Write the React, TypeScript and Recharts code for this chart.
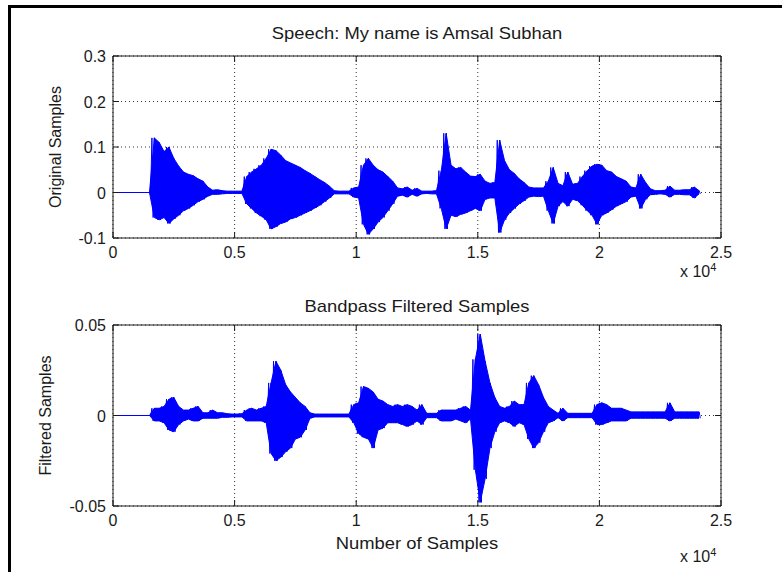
import { ComposedChart, Line, Area, XAxis, YAxis, CartesianGrid, Label } from 'recharts';

const FONT = 'Arial, "Liberation Sans", sans-serif';
const INK = '#1a1a1a';
const WAVE = '#0000ff';

// envelope of the speech waveform, one peak/trough pair per 200-sample bin
const BIN = 200;
const X_TICKS = [0, 5000, 10000, 15000, 20000, 25000];
const ORIG_TICKS = [-0.1, 0, 0.1, 0.2, 0.3];
const FILT_TICKS = [-0.05, 0, 0.05];

const origHi = [
  0, 0, 0, 0, 0, 0, 0, 0, 0.12, 0.11,
  0.09, 0.1, 0.075, 0.058, 0.045, 0.04, 0.037, 0.03, 0.025, 0.012,
  0.005, 0.006, 0.004, 0.003, 0.003, 0.003, 0.003, 0.035, 0.045, 0.052,
  0.06, 0.075, 0.095, 0.092, 0.082, 0.07, 0.065, 0.06, 0.055, 0.048,
  0.042, 0.035, 0.028, 0.022, 0.014, 0.004, 0.003, 0.003, 0.003, 0.01,
  0.012, 0.06, 0.075, 0.06, 0.05, 0.045, 0.035, 0.025, 0.01, 0.008,
  0.012, 0.005, 0.009, 0.003, 0.003, 0.003, 0.004, 0.048, 0.13, 0.06,
  0.052, 0.055, 0.045, 0.036, 0.035, 0.04, 0.025, 0.02, 0.022, 0.115,
  0.07, 0.05, 0.042, 0.03, 0.022, 0.012, 0.01, 0.01, 0.01, 0.025,
  0.055, 0.02, 0.015, 0.045, 0.018, 0.02, 0.035, 0.048, 0.058, 0.062,
  0.06, 0.048, 0.045, 0.035, 0.03, 0.025, 0.012, 0.01, 0.04, 0.022,
  0.008, 0.004, 0.004, 0.005, 0.014, 0.005, 0.005, 0.006, 0.006, 0.012,
  0.004,
];
const origLo = [
  0, 0, 0, 0, 0, 0, 0, 0, -0.055, -0.06,
  -0.055, -0.068, -0.058, -0.05, -0.04, -0.035, -0.028, -0.02, -0.015, -0.008,
  -0.004, -0.004, -0.003, -0.002, -0.002, -0.002, -0.002, -0.025, -0.035, -0.045,
  -0.052, -0.06, -0.08, -0.075, -0.068, -0.065, -0.058, -0.055, -0.05, -0.045,
  -0.04, -0.034, -0.028, -0.02, -0.012, -0.003, -0.003, -0.003, -0.003, -0.01,
  -0.012, -0.07, -0.092, -0.08, -0.065, -0.055, -0.04, -0.025, -0.008, -0.006,
  -0.01, -0.004, -0.008, -0.003, -0.002, -0.003, -0.003, -0.035, -0.08, -0.05,
  -0.053, -0.048, -0.045, -0.04, -0.035, -0.04, -0.015, -0.012, -0.012, -0.088,
  -0.06, -0.045, -0.035, -0.025, -0.018, -0.01, -0.008, -0.009, -0.008, -0.04,
  -0.068, -0.03, -0.02, -0.03, -0.015, -0.018, -0.028, -0.04, -0.05, -0.07,
  -0.05, -0.045, -0.038, -0.03, -0.025, -0.02, -0.01, -0.008, -0.035, -0.015,
  -0.005, -0.004, -0.003, -0.004, -0.01, -0.004, -0.004, -0.005, -0.005, -0.012,
  -0.003,
];
const filtHi = [
  0, 0, 0, 0, 0, 0, 0, 0, 0.004, 0.004,
  0.005, 0.009, 0.01, 0.005, 0.003, 0.003, 0.004, 0.005, 0.0015, 0.0015,
  0.003, 0.0015, 0.0015, 0.001, 0.0008, 0.0008, 0.001, 0.003, 0.004, 0.003,
  0.004, 0.005, 0.018, 0.03, 0.025, 0.017, 0.013, 0.01, 0.007, 0.005,
  0.0015, 0.0008, 0.0008, 0.0008, 0.0008, 0.0008, 0.0008, 0.0008, 0.0008, 0.006,
  0.007, 0.016, 0.015, 0.013, 0.009, 0.008, 0.006, 0.005, 0.006, 0.005,
  0.006, 0.005, 0.003, 0.006, 0.0012, 0.0012, 0.0012, 0.003, 0.003, 0.003,
  0.003, 0.004, 0.005, 0.003, 0.031, 0.045, 0.03, 0.018, 0.01, 0.005,
  0.004, 0.005, 0.008, 0.006, 0.006, 0.018, 0.022, 0.017, 0.01, 0.005,
  0.003, 0.0012, 0.004, 0.0012, 0.0012, 0.0012, 0.0012, 0.0012, 0.0012, 0.006,
  0.007, 0.006, 0.004, 0.004, 0.004, 0.003, 0.002, 0.002, 0.002, 0.002,
  0.002, 0.002, 0.002, 0.002, 0.007, 0.002, 0.002, 0.002, 0.002, 0.002,
  0.002,
];
const filtLo = [
  0, 0, 0, 0, 0, 0, 0, 0, -0.003, -0.003,
  -0.004, -0.008, -0.009, -0.005, -0.003, -0.002, -0.003, -0.003, -0.0015, -0.0015,
  -0.0015, -0.0015, -0.001, -0.001, -0.0008, -0.0008, -0.0008, -0.003, -0.003, -0.003,
  -0.003, -0.004, -0.021, -0.025, -0.023, -0.02, -0.018, -0.013, -0.012, -0.008,
  -0.0015, -0.0008, -0.0008, -0.0008, -0.0008, -0.0008, -0.0008, -0.0008, -0.0008, -0.004,
  -0.01, -0.012, -0.013, -0.018, -0.008, -0.007, -0.004, -0.004, -0.004, -0.005,
  -0.006, -0.005, -0.003, -0.005, -0.0012, -0.0012, -0.0012, -0.003, -0.003, -0.003,
  -0.002, -0.003, -0.004, -0.002, -0.03, -0.048, -0.035, -0.018, -0.009, -0.004,
  -0.003, -0.004, -0.006, -0.004, -0.005, -0.013, -0.018, -0.015, -0.009, -0.004,
  -0.003, -0.0012, -0.003, -0.0012, -0.0012, -0.0012, -0.0012, -0.0012, -0.0012, -0.005,
  -0.005, -0.004, -0.003, -0.003, -0.003, -0.003, -0.0015, -0.0015, -0.0015, -0.0015,
  -0.0015, -0.0015, -0.0015, -0.0015, -0.003, -0.0015, -0.0015, -0.0015, -0.0015, -0.0015,
  -0.0015,
];

// solid body: one [trough, peak] range per bin, at the bin centre
const envData = origHi.map((_, k) => ({
  n: k * BIN + BIN / 2,
  orig: [origLo[k], origHi[k]],
  filt: [filtLo[k], filtHi[k]],
}));

// spiky texture: zigzag between each bin's peak and trough
const waveData = origHi.flatMap((_, k) =>
  [0, 1, 2, 3].map((j) => ({
    n: k * BIN + (j * BIN) / 4,
    orig: j % 2 === 0 ? origHi[k] : origLo[k],
    filt: j % 2 === 0 ? filtHi[k] : filtLo[k],
  }))
);

const fmtX = (v: number) => String(v / 10000);

// the source figure's horizontal text is a little wider than Arial
function WideText({ x, y, children, size = 16 }: any) {
  return (
    <text transform={`translate(${x}, ${y}) scale(1.15, 1)`} textAnchor="middle" fontSize={size} fill={INK} fontFamily={FONT}>
      {children}
    </text>
  );
}

function BottomTick(props: any) {
  const { x, y, payload } = props;
  return (
    <g>
      <line x1={x} y1={y} x2={x} y2={y - 6} stroke={INK} />
      <text x={x} y={y + 20} textAnchor="middle" fontSize={16} fill={INK} fontFamily={FONT}>
        {fmtX(payload.value)}
      </text>
    </g>
  );
}

function TopTick(props: any) {
  const { x, y } = props;
  return <line x1={x} y1={y} x2={x} y2={y + 6} stroke={INK} />;
}

function LeftTick(props: any) {
  const { x, y, payload } = props;
  return (
    <g>
      <line x1={x} y1={y} x2={x + 6} y2={y} stroke={INK} />
      <text x={x - 7} y={y + 6} textAnchor="end" fontSize={16} fill={INK} fontFamily={FONT}>
        {String(payload.value)}
      </text>
    </g>
  );
}

function RightTick(props: any) {
  const { x, y } = props;
  return <line x1={x} y1={y} x2={x - 6} y2={y} stroke={INK} />;
}

function YTitle({ viewBox, text, dx }: any) {
  const cx = viewBox.x + dx;
  const cy = viewBox.y + viewBox.height / 2;
  return (
    <text x={cx} y={cy} transform={`rotate(-90, ${cx}, ${cy})`} textAnchor="middle" fontSize={16} fill={INK} fontFamily={FONT}>
      {text}
    </text>
  );
}

function Panel({ dataKey, yDomain, yTicks, height, margin, xHeight, title, titleY, yLabel, yLabelDx, xLabel, expDy }: any) {
  return (
    <ComposedChart width={782} height={height} margin={margin}>
      <CartesianGrid stroke="#333" strokeDasharray="1 3" />
      <XAxis
        dataKey="n"
        type="number"
        domain={[0, 25000]}
        ticks={X_TICKS}
        interval={0}
        height={xHeight}
        tickSize={0}
        tickMargin={0}
        tickLine={false}
        tick={BottomTick}
        axisLine={{ stroke: INK }}
        allowDataOverflow
      >
        <Label
          content={({ viewBox }: any) => (
            <g>
              <WideText x={viewBox.x + viewBox.width / 2} y={titleY}>
                {title}
              </WideText>
              {xLabel && (
                <WideText x={viewBox.x + viewBox.width / 2} y={viewBox.y + 43}>
                  {xLabel}
                </WideText>
              )}
              <text x={viewBox.x + viewBox.width - 41} y={viewBox.y + expDy} fontSize={16} fill={INK} fontFamily={FONT}>
                x 10
                <tspan fontSize={11} dy={-6}>4</tspan>
              </text>
            </g>
          )}
        />
      </XAxis>
      <XAxis
        xAxisId="top"
        dataKey="n"
        orientation="top"
        type="number"
        domain={[0, 25000]}
        ticks={X_TICKS}
        interval={0}
        height={1}
        tickSize={0}
        tickMargin={0}
        tickLine={false}
        tick={TopTick}
        axisLine={{ stroke: INK }}
        allowDataOverflow
      />
      <YAxis
        type="number"
        domain={yDomain}
        ticks={yTicks}
        interval={0}
        width={60}
        tickSize={0}
        tickMargin={0}
        tickLine={false}
        tick={LeftTick}
        axisLine={{ stroke: INK }}
        allowDataOverflow
      >
        <Label content={({ viewBox }: any) => <YTitle viewBox={viewBox} text={yLabel} dx={yLabelDx} />} />
      </YAxis>
      <YAxis
        yAxisId="right"
        orientation="right"
        type="number"
        domain={yDomain}
        ticks={yTicks}
        interval={0}
        width={1}
        tickSize={0}
        tickMargin={0}
        tickLine={false}
        tick={RightTick}
        axisLine={{ stroke: INK }}
        allowDataOverflow
      />
      <Area
        data={envData}
        type="linear"
        dataKey={dataKey}
        stroke={WAVE}
        strokeWidth={1}
        fill={WAVE}
        fillOpacity={1}
        dot={false}
        activeDot={false}
        isAnimationActive={false}
      />
      <Line
        data={waveData}
        type="linear"
        dataKey={dataKey}
        stroke={WAVE}
        strokeWidth={1}
        dot={false}
        activeDot={false}
        isAnimationActive={false}
      />
    </ComposedChart>
  );
}

export default function App() {
  return (
    <div style={{ position: 'absolute', left: 0, top: 0, width: 782, height: 572, background: '#fff', overflow: 'hidden' }}>
      <div
        style={{
          position: 'absolute',
          left: 8,
          top: 5,
          width: 774,
          height: 567,
          borderLeft: '3px solid #000',
          borderTop: '3px solid #000',
          boxSizing: 'border-box',
        }}
      />
      <div style={{ position: 'absolute', left: 0, top: 0 }}>
        <Panel
          dataKey="orig"
          yDomain={[-0.1, 0.3]}
          yTicks={ORIG_TICKS}
          height={290}
          margin={{ top: 55, right: 60, bottom: 12, left: 53 }}
          xHeight={40}
          title="Speech: My name is Amsal Subhan"
          titleY={39}
          yLabel="Original Samples"
          yLabelDx={8}
          expDy={39}
        />
      </div>
      <div style={{ position: 'absolute', left: 0, top: 270 }}>
        <Panel
          dataKey="filt"
          yDomain={[-0.05, 0.05]}
          yTicks={FILT_TICKS}
          height={300}
          margin={{ top: 54, right: 60, bottom: 14, left: 53 }}
          xHeight={50}
          title="Bandpass Filtered Samples"
          titleY={42}
          yLabel="Filtered Samples"
          yLabelDx={-2}
          xLabel="Number of Samples"
          expDy={56}
        />
      </div>
    </div>
  );
}
